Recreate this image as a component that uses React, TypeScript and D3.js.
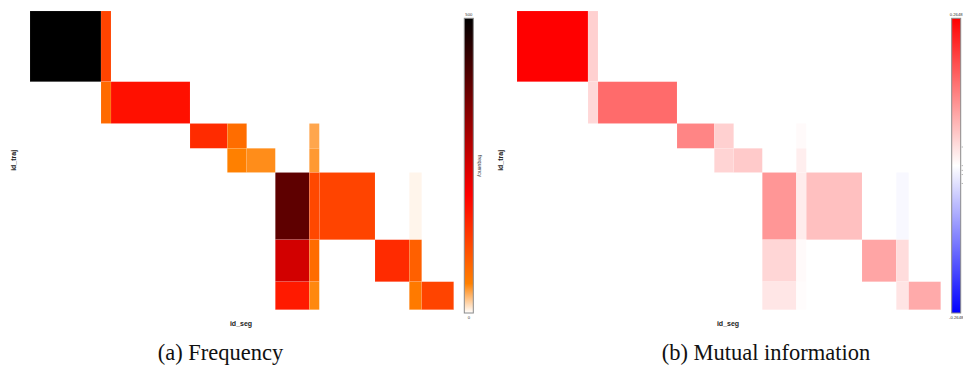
import React from 'react';
import * as d3 from 'd3';

// ---- data ----
const segIds = ['s01', 's02', 's03', 's04', 's05', 's06', 's07', 's08', 's09', 's10', 's11', 's12'];
const segSizes = [71, 10, 79, 37.3, 19.4, 28.6, 34, 10, 55.7, 34.3, 12.4, 32];
const trajIds = ['t1', 't2', 't3', 't4', 't5', 't6', 't7'];
const trajSizes = [70.7, 41.8, 24.8, 24.2, 67.2, 42, 28];

const cellTraj = [0, 0, 1, 1, 2, 2, 2, 3, 3, 3, 4, 4, 4, 4, 5, 5, 5, 5, 6, 6, 6, 6];
const cellSeg = [0, 1, 1, 2, 3, 4, 7, 4, 5, 7, 6, 7, 8, 10, 6, 7, 9, 10, 6, 7, 10, 11];
const freqValues = [500, 120, 76, 181, 150, 72, 35, 50, 45, 40, 389, 116, 120, 4, 253, 74, 150, 87, 170, 47, 57, 120];
const miValues = [0.2648, 0.049, 0.04, 0.154, 0.127, 0.049, 0.005, 0.045, 0.055, 0.018, 0.109, 0.02, 0.065, -0.007, 0.043, 0.005, 0.093, 0.036, 0.026, 0.003, 0.028, 0.088];

const freqDomain = [0, 500];
const miDomain = [-0.2648, 0.2648];
const miMinorTicks = [0.0335, 0, -0.0085, -0.016, -0.032];
const captions = ['(a) Frequency', '(b) Mutual information'];

// ---- scales ----
const freqColor = d3.scaleLinear<string>()
  .domain([0, 50, 200, 500])
  .range(['#ffffff', '#ff8000', '#ff0000', '#000000'])
  .interpolate(d3.interpolateRgb);
const miColor = d3.scaleLinear<string>()
  .domain([miDomain[0], 0, miDomain[1]])
  .range(['#0000ff', '#ffffff', '#ff0000'])
  .interpolate(d3.interpolateRgb);

const W = 963, H = 376;

function cumEdges(sizes: number[]) {
  const e = [0];
  sizes.forEach((s) => e.push(e[e.length - 1] + s));
  return e;
}
const segEdges = cumEdges(segSizes);
const trajEdges = cumEdges(trajSizes);

type PanelProps = {
  x0: number;
  values: number[];
  color: (v: number) => string;
  id: string;
  cbX: number;
  cbDomain: number[];
  cbLabels: string[];
  cbTitle?: string;
  minorTicks?: number[];
  caption: string;
  captionX: number;
};

function Panel(p: PanelProps) {
  const top = 11, bottom = 309.7;
  const width = 423.7;
  const xs = d3.scaleLinear().domain([0, segEdges[segEdges.length - 1]]).range([p.x0, p.x0 + width]);
  const ys = d3.scaleLinear().domain([0, trajEdges[trajEdges.length - 1]]).range([top, bottom]);
  const cbTop = 18.3, cbBot = 313, cbW = 9;
  const cbScale = d3.scaleLinear().domain(p.cbDomain).range([cbBot, cbTop]);
  const nStops = 40;
  const stops = d3.range(nStops + 1).map((i) => {
    const t = i / nStops;
    const v = p.cbDomain[0] + t * (p.cbDomain[1] - p.cbDomain[0]);
    return { off: t, c: p.color(v) };
  });
  return (
    <g>
      <defs>
        <linearGradient id={p.id + '-grad'} x1="0" y1="1" x2="0" y2="0">
          {stops.map((s, i) => (
            <stop key={i} offset={s.off} stopColor={s.c} />
          ))}
        </linearGradient>
      </defs>
      {p.values.map((v, i) => {
        const si = cellSeg[i], ti = cellTraj[i];
        const x = xs(segEdges[si]);
        const x2 = xs(segEdges[si + 1]);
        const y = ys(trajEdges[ti]);
        const y2 = ys(trajEdges[ti + 1]);
        return (
          <rect key={segIds[si] + trajIds[ti]} x={x} y={y} width={x2 - x} height={y2 - y}
            fill={p.color(v)} stroke="#ffffff" strokeOpacity={0.18} strokeWidth={0.5} />
        );
      })}
      <text x={p.x0 - 14} y={(top + bottom) / 2} transform={`rotate(-90 ${p.x0 - 14} ${(top + bottom) / 2})`}
        textAnchor="middle" fontFamily="Liberation Sans, Arial, sans-serif" fontWeight="bold" fontSize={7}
        fill="#222">id_traj</text>
      <text x={p.x0 + 211} y={325.5} textAnchor="middle" fontFamily="Liberation Sans, Arial, sans-serif"
        fontWeight="bold" fontSize={7} fill="#222">id_seg</text>
      <rect x={p.cbX} y={cbTop} width={cbW} height={cbBot - cbTop} fill={`url(#${p.id}-grad)`}
        stroke="#8a8a8a" strokeWidth={1} />
      <text x={p.cbX + cbW / 2} y={15.5} textAnchor="middle" fontFamily="Liberation Sans, Arial, sans-serif"
        fontSize={4.2} fill="#333">{p.cbLabels[1]}</text>
      <text x={p.cbX + cbW / 2} y={318.5} textAnchor="middle" fontFamily="Liberation Sans, Arial, sans-serif"
        fontSize={4.2} fill="#333">{p.cbLabels[0]}</text>
      {p.cbTitle && (
        <text x={p.cbX + cbW + 4.5} y={166} transform={`rotate(90 ${p.cbX + cbW + 4.5} 166)`} textAnchor="middle"
          fontFamily="Liberation Sans, Arial, sans-serif" fontSize={5} fill="#333">{p.cbTitle}</text>
      )}
      {(p.minorTicks || []).map((t, i) => (
        <line key={i} x1={p.cbX + cbW + 1} x2={p.cbX + cbW + 2.2} y1={cbScale(t)} y2={cbScale(t)}
          stroke="#888" strokeWidth={0.7} />
      ))}
      <text x={p.captionX} y={360} textAnchor="middle" fontFamily="Liberation Serif, Times New Roman, serif"
        fontSize={22.5} fill="#111">{p.caption}</text>
    </g>
  );
}

export default function App() {
  return (
    <svg width={W} height={H} style={{ position: 'absolute', left: 0, top: 0, background: '#fff' }}>
      <rect width={W} height={H} fill="#fff" />
      <Panel x0={30} values={freqValues} color={(v) => freqColor(v)} id="freq" cbX={464.3}
        cbDomain={freqDomain} cbLabels={['0', '500']} cbTitle="frequency" caption={captions[0]} captionX={220.5} />
      <Panel x0={517} values={miValues} color={(v) => miColor(v)} id="mi" cbX={951.7}
        cbDomain={miDomain} cbLabels={['-0.2648', '0.2648']} minorTicks={miMinorTicks}
        caption={captions[1]} captionX={766} />
    </svg>
  );
}
